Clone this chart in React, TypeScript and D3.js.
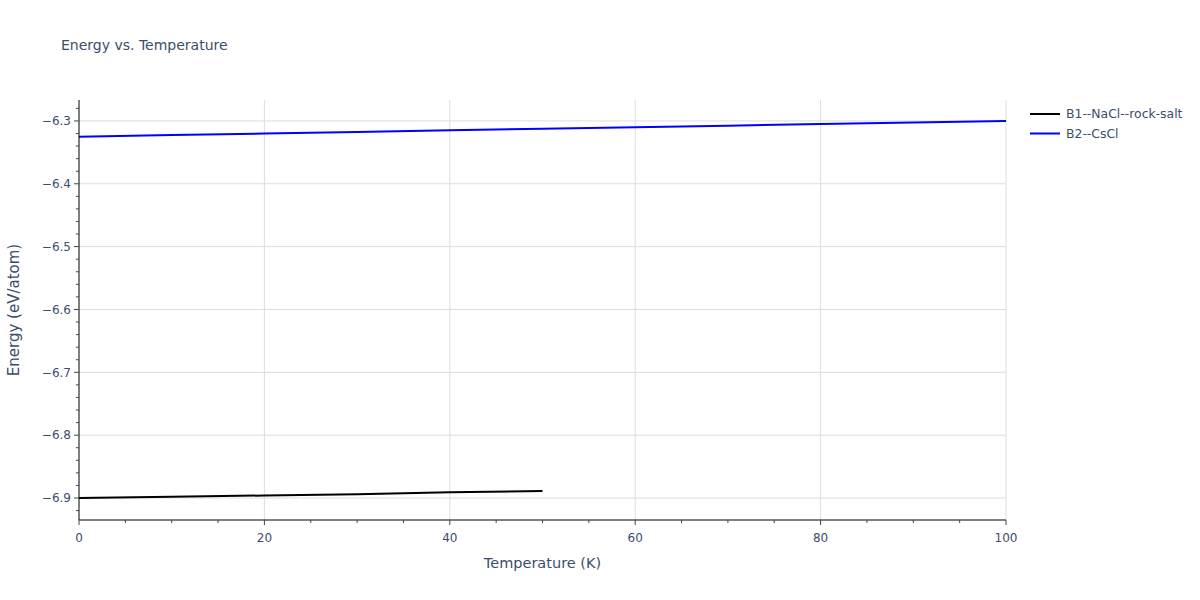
import * as d3 from "d3";

const temps = [0, 10, 20, 30, 40, 50, 60, 70, 80, 90, 100];
const b1Temps = [0, 10, 20, 30, 40, 50];
const b1Energy = [-6.9, -6.898, -6.896, -6.894, -6.891, -6.889];
const b2Energy = [-6.325, -6.3225, -6.32, -6.3175, -6.315, -6.3125, -6.31, -6.3075, -6.305, -6.3025, -6.3];
const seriesNames = ["B1--NaCl--rock-salt", "B2--CsCl"];
const seriesColors = ["#000000", "#0000ff"];
const xTicks = [0, 20, 40, 60, 80, 100];
const yTicks = [-6.9, -6.8, -6.7, -6.6, -6.5, -6.4, -6.3];

export default function App() {
  const width = 1200;
  const height = 600;
  const marginLeft = 79;
  const marginRight = 194;
  const marginTop = 100;
  const marginBottom = 80;
  const font = "'DejaVu Sans', Verdana, sans-serif";
  const textColor = "#3b4d6b";

  const x = d3.scaleLinear([0, 100], [marginLeft, width - marginRight]);
  const y = d3.scaleLinear([-6.935, -6.2667], [height - marginBottom, marginTop]);

  const b1 = b1Temps.map((t, i) => [t, b1Energy[i]] as [number, number]);
  const b2 = temps.map((t, i) => [t, b2Energy[i]] as [number, number]);
  const line = d3.line<[number, number]>((d) => x(d[0]), (d) => y(d[1]));

  const xMinor = d3.range(0, 100.01, 5);
  const yMinor = d3.range(-6.92, -6.27, 0.02);
  const fmt = (v: number) => d3.format(".1f")(v).replace("-", "\u2212");

  return (
    <svg width={width} height={height} style={{ position: "absolute", left: 0, top: 0 }} fontFamily={font}>
      <rect width={width} height={height} fill="white" />
      <text x={61} y={50} fontSize={14} fill={textColor}>Energy vs. Temperature</text>

      {/* grid */}
      <g stroke="#dddddd" strokeWidth={1}>
        {xTicks.slice(1).map((t) => (
          <line key={t} x1={x(t)} x2={x(t)} y1={marginTop} y2={height - marginBottom} />
        ))}
        {yTicks.map((t) => (
          <line key={t} x1={marginLeft} x2={width - marginRight} y1={y(t)} y2={y(t)} />
        ))}
      </g>

      {/* series */}
      <path d={line(b2) ?? ""} fill="none" stroke={seriesColors[1]} strokeWidth={2} />
      <path d={line(b1) ?? ""} fill="none" stroke={seriesColors[0]} strokeWidth={2} />

      {/* x axis */}
      <g>
        <line x1={marginLeft} x2={width - marginRight} y1={height - marginBottom} y2={height - marginBottom} stroke="black" />
        {xMinor.map((t) => (
          <line key={t} x1={x(t)} x2={x(t)} y1={height - marginBottom} y2={height - marginBottom + (t % 20 === 0 ? 5 : 3)} stroke="#444" />
        ))}
        {xTicks.map((t) => (
          <text key={t} x={x(t)} y={height - marginBottom + 22} textAnchor="middle" fontSize={12} fill={textColor}>{t}</text>
        ))}
        <text x={(marginLeft + width - marginRight) / 2} y={568} textAnchor="middle" fontSize={14.5} fill={textColor}>Temperature (K)</text>
      </g>

      {/* y axis */}
      <g>
        <line x1={marginLeft} x2={marginLeft} y1={marginTop} y2={height - marginBottom} stroke="black" />
        {yMinor.map((t, i) => (
          <line key={i} x1={marginLeft - (Math.abs(Math.round(t * 50)) % 5 === 0 ? 5 : 3)} x2={marginLeft} y1={y(t)} y2={y(t)} stroke="#444" />
        ))}
        {yTicks.map((t) => (
          <text key={t} x={marginLeft - 8} y={y(t)} dy="0.35em" textAnchor="end" fontSize={12} fill={textColor}>{fmt(t)}</text>
        ))}
        <text transform={`translate(19,${(marginTop + height - marginBottom) / 2}) rotate(-90)`} textAnchor="middle" fontSize={15} fill={textColor}>Energy (eV/atom)</text>
      </g>

      {/* legend */}
      <g>
        {seriesNames.map((name, i) => (
          <g key={name} transform={`translate(1030,${114 + i * 19.5})`}>
            <line x1={0} x2={30} y1={0} y2={0} stroke={seriesColors[i]} strokeWidth={2} />
            <text x={36} y={0} dy="0.35em" fontSize={12.4} fill={textColor}>{name}</text>
          </g>
        ))}
      </g>
    </svg>
  );
}
